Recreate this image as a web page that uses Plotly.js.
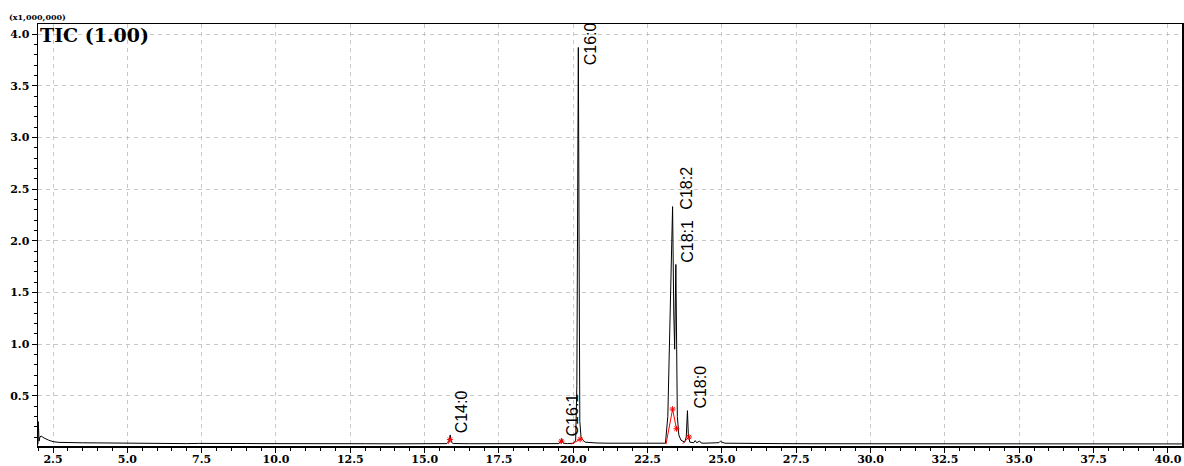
<!DOCTYPE html>
<html>
<head>
<meta charset="utf-8">
<script src="https://cdn.plot.ly/plotly-3.0.1.min.js"></script>
<style>html,body{margin:0;padding:0;background:#fff;}#chart{width:1184px;height:466px;}</style>
</head>
<body>
<div id="chart"></div>
<script>
// Retention time (min) and TIC intensity (x1,000,000)
const rt = [1.995, 2.00, 2.01, 2.03, 2.06, 2.10, 2.20, 2.35, 2.50, 2.70, 3.00, 3.50, 4.00, 4.50, 5.00, 5.50, 6.00, 6.30, 6.60, 7.00, 7.40, 7.80, 8.20, 8.60, 9.00, 9.50, 10.0, 11.0, 12.0, 13.0, 14.0, 15.0, 15.5, 15.75, 15.82, 15.86, 15.90, 15.96, 16.5, 17.5, 18.5, 19.3, 19.52, 19.58, 19.61, 19.66, 19.8, 20.02, 20.08, 20.12, 20.15, 20.17, 20.20, 20.22, 20.26, 20.32, 20.40, 20.60, 20.80, 21.2, 22.0, 22.8, 23.10, 23.18, 23.25, 23.30, 23.34, 23.38, 23.41, 23.45, 23.48, 23.50, 23.55, 23.62, 23.75, 23.80, 23.84, 23.87, 23.92, 24.05, 24.10, 24.15, 24.25, 24.30, 24.40, 24.60, 24.90, 24.95, 25.00, 25.10, 25.5, 26.0, 27.0, 28.0, 29.0, 30.0, 32.0, 34.0, 36.0, 38.0, 39.0, 40.0, 40.47];
const tic = [0.03, 0.25, 0.22, 0.06, 0.10, 0.11, 0.09, 0.07, 0.055, 0.048, 0.045, 0.044, 0.043, 0.041, 0.040, 0.039, 0.040, 0.037, 0.039, 0.036, 0.038, 0.036, 0.037, 0.035, 0.037, 0.036, 0.035, 0.036, 0.035, 0.035, 0.034, 0.035, 0.034, 0.036, 0.06, 0.12, 0.05, 0.037, 0.035, 0.034, 0.034, 0.035, 0.036, 0.06, 0.085, 0.04, 0.036, 0.04, 0.07, 0.6, 2.3, 3.87, 1.6, 0.25, 0.10, 0.07, 0.05, 0.045, 0.042, 0.04, 0.037, 0.036, 0.04, 0.3, 1.2, 2.0, 2.33, 1.3, 0.95, 1.77, 0.6, 0.3, 0.12, 0.07, 0.05, 0.1, 0.355, 0.12, 0.05, 0.045, 0.065, 0.045, 0.06, 0.042, 0.04, 0.04, 0.045, 0.06, 0.05, 0.04, 0.038, 0.037, 0.036, 0.035, 0.035, 0.034, 0.034, 0.033, 0.033, 0.033, 0.034, 0.033, 0.033];

// Integration baselines (red)
const intRT = [15.80, 15.85, null, 19.55, 19.60, null, 19.94, 20.23, null, 23.12, 23.34, 23.47, null, 23.68, 23.89];
const intY  = [0.035, 0.075, null, 0.035, 0.06, null, 0.032, 0.078, null, 0.032, 0.37, 0.18, null, 0.035, 0.10];
const markRT = [15.85, 19.60, 20.23, 23.34, 23.47, 23.89];
const markY  = [0.075, 0.06, 0.078, 0.37, 0.18, 0.10];

// Peak labels
const peakNames = ['C14:0', 'C16:1', 'C16:0', 'C18:2', 'C18:1', 'C18:0'];
const peakRT    = [15.85, 19.60, 20.17, 23.34, 23.45, 23.84];
const peakTop   = [0.12, 0.085, 3.87, 2.33, 1.77, 0.355];

const xTickVals = [2.5, 5.0, 7.5, 10.0, 12.5, 15.0, 17.5, 20.0, 22.5, 25.0, 27.5, 30.0, 32.5, 35.0, 37.5, 40.0];
const yTickVals = [0.5, 1.0, 1.5, 2.0, 2.5, 3.0, 3.5, 4.0];

// label placement (pixels)
const labelXShift = [12, 11, 13, 13, 12, 13];
const labelYShift = [0, 0, -20, -5, 0, 0];

const serif = {family: 'DejaVu Serif', size: 11, color: '#000', weight: 'bold'};

const traces = [
  {x: rt, y: tic, type: 'scatter', mode: 'lines', line: {color: '#000', width: 1}, hoverinfo: 'skip'},
  {x: intRT, y: intY, type: 'scatter', mode: 'lines', line: {color: '#ff0000', width: 1}, connectgaps: false, hoverinfo: 'skip'},
  {x: markRT, y: markY, type: 'scatter', mode: 'markers', marker: {symbol: 'asterisk-open', size: 5, color: '#ff0000', line: {color: '#ff0000', width: 1}}, hoverinfo: 'skip'}
];

const annotations = peakNames.map((n, i) => ({
  x: peakRT[i], y: peakTop[i], xref: 'x', yref: 'y', text: n, showarrow: false,
  textangle: -90, xanchor: 'center', yanchor: 'bottom', xshift: labelXShift[i], yshift: labelYShift[i],
  font: {family: 'Liberation Sans', size: 16, color: '#000'}
}));
annotations.push({
  x: 0, y: 1, xref: 'paper', yref: 'paper', text: 'TIC (1.00)', showarrow: false,
  xanchor: 'left', yanchor: 'top', xshift: 0, yshift: 2,
  font: {family: 'DejaVu Serif', size: 19, color: '#000', weight: 'bold'}
});
annotations.push({
  x: 0, y: 1, xref: 'paper', yref: 'paper', text: '(x1,000,000)', showarrow: false,
  xanchor: 'center', yanchor: 'middle', xshift: -1, yshift: 7,
  font: {family: 'DejaVu Serif', size: 8, color: '#000', weight: 'bold'}
});

const layout = {
  width: 1184, height: 466,
  margin: {l: 38, r: 2, t: 24, b: 20, pad: 0},
  paper_bgcolor: '#fff', plot_bgcolor: '#fff',
  showlegend: false,
  xaxis: {
    range: [1.995, 40.475], tickvals: xTickVals, ticktext: xTickVals.map(v => v.toFixed(1)),
    ticks: 'outside', ticklen: 5, tickwidth: 1, tickcolor: '#000', ticklabelstandoff: -3,
    minor: {dtick: 0.5, tick0: 0, ticks: 'outside', ticklen: 3, tickcolor: '#000', showgrid: false},
    showgrid: true, gridcolor: '#c8c8c8', gridwidth: 1, griddash: '4px,4px',
    showline: true, linecolor: '#000', linewidth: 1.5, mirror: true,
    zeroline: false, tickfont: serif
  },
  yaxis: {
    range: [0.013, 4.097], tickvals: yTickVals, ticktext: yTickVals.map(v => v.toFixed(1)),
    ticks: 'outside', ticklen: 5, tickwidth: 1, tickcolor: '#000',
    minor: {dtick: 0.1, tick0: 0, ticks: 'outside', ticklen: 3, tickcolor: '#000', showgrid: false},
    showgrid: true, gridcolor: '#c8c8c8', gridwidth: 1, griddash: '4px,4px',
    showline: true, linecolor: '#000', linewidth: 1.5, mirror: true,
    zeroline: false, tickfont: serif
  },
  annotations: annotations
};

Plotly.newPlot('chart', traces, layout, {staticPlot: true, displayModeBar: false});
</script>
</body>
</html>
